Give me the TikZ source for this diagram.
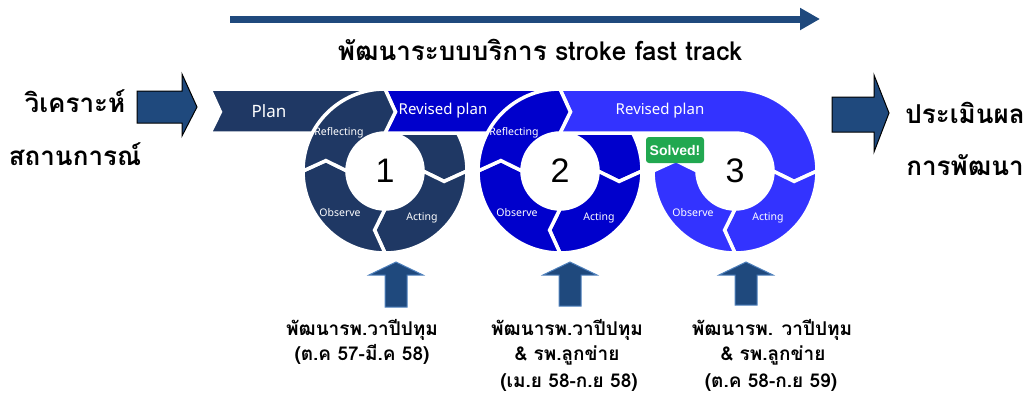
\documentclass[tikz,border=0pt]{standalone}
\usepackage{fontspec}
\setmainfont{Noto Sans}
\newfontfamily\thaifont[Script=Thai]{Loma}
\newfontfamily\digitfont{Liberation Sans}
\usetikzlibrary{arrows.meta}

\definecolor{navyseg}{RGB}{31,56,100}
\definecolor{royalseg}{RGB}{0,0,204}
\definecolor{brightseg}{RGB}{51,51,255}
\definecolor{arrowblue}{RGB}{31,73,125}
\definecolor{arrowedge}{RGB}{79,129,189}
\definecolor{solvedgreen}{RGB}{33,168,80}

\tikzset{
    segline/.style={draw=white,line width=3.5,line join=miter},
    seglabel/.style={text=white,font=\fontsize{10.5}{12}\selectfont},
    bandlabel/.style={text=white,font=\fontsize{15}{18}\selectfont},
    numlabel/.style={font=\digitfont\fontsize{34}{34}\selectfont},
    thaibig/.style={font=\thaifont\bfseries\fontsize{26}{30}\selectfont,anchor=base},
    thaismall/.style={font=\thaifont\bfseries\fontsize{19}{22}\selectfont,anchor=base},
    blockarrow/.style={fill=arrowblue,draw=black,line width=1},
    uparrow/.style={fill=arrowblue,draw=arrowedge,line width=1},
    solvedtag/.style={fill=solvedgreen,rounded corners=3,text=white,inner sep=0,
        minimum width=58,minimum height=26,font=\digitfont\bfseries\fontsize{14}{16}\selectfont}
}

% band that runs in from the left and turns down the right side of a cycle
\newcommand{\bandpart}[2]{
    \draw[segline,fill=#2,shift={(#1)}] (-175,82) -- (0,82)
        arc[start angle=90,end angle=0,radius=82] -- (-10:60) -- (0:38)
        arc[start angle=0,end angle=90,radius=38] -- (-175,38) -- (-164.58,59.09) -- cycle;
}
% one curved chevron of a cycle, from angle #2 clockwise to angle #3
\newcommand{\ringpart}[4]{
    \draw[segline,fill=#4,shift={(#1)}] (#2:82)
        arc[start angle=#2,end angle=#3,radius=82] -- (#3-10:60) -- (#3:38)
        arc[start angle=#3,end angle=#2,radius=38] -- (#2-10:60) -- cycle;
}

\begin{document}
\begin{tikzpicture}[x=1pt,y=1pt]
    \useasboundingbox (0,0) rectangle (1035,-394);

    \coordinate (c1) at (385,-171);
    \coordinate (c2) at (560,-171);
    \coordinate (c3) at (735,-171);

    % time line
    \coordinate (tl) at (230,-19);
    \coordinate (tr) at (820,-19);
    \draw[arrowblue,line width=7,-{Triangle[length=20pt,width=21pt]}] (tl) -- (tr);
    \node[thaibig] (title) at (540,-60) {พัฒนาระบบบริการ stroke fast track};

    % cycles
    \bandpart{c1}{navyseg}
    \ringpart{c1}{0}{-90}{navyseg}
    \ringpart{c1}{-90}{-180}{navyseg}
    \bandpart{c2}{royalseg}
    \ringpart{c1}{180}{90}{navyseg}
    \ringpart{c2}{0}{-90}{royalseg}
    \ringpart{c2}{-90}{-180}{royalseg}
    \bandpart{c3}{brightseg}
    \ringpart{c2}{180}{90}{royalseg}
    \ringpart{c3}{0}{-90}{brightseg}
    \ringpart{c3}{-90}{-180}{brightseg}

    \node[bandlabel,font=\fontsize{17}{20}\selectfont] (plan) at (269,-111) {Plan};
    \node[bandlabel] (rev1) at (443,-111) {Revised plan};
    \node[bandlabel] (rev2) at (660,-111) {Revised plan};
    \node[seglabel] (refl1) at (339,-133) {Reflecting};
    \node[seglabel] (refl2) at (514,-133) {Reflecting};
    \node[seglabel] (obs1) at (340,-213) {Observe};
    \node[seglabel] (obs2) at (517,-213) {Observe};
    \node[seglabel] (obs3) at (693,-213) {Observe};
    \node[seglabel] (act1) at (422,-218) {Acting};
    \node[seglabel] (act2) at (599,-218) {Acting};
    \node[seglabel] (act3) at (768,-218) {Acting};
    \node[numlabel] (num1) at (c1) {1};
    \node[numlabel] (num2) at (c2) {2};
    \node[numlabel] (num3) at (c3) {3};
    \node[solvedtag] (solved) at (675,-150) {Solved!};

    % in and out
    \draw[blockarrow] (137,-91) -- (182,-91) -- (182,-74) -- (197,-107) -- (182,-136)
        -- (182,-123) -- (137,-123) -- cycle;
    \draw[blockarrow] (832,-97) -- (874,-97) -- (874,-75) -- (889,-113) -- (874,-152)
        -- (874,-132) -- (832,-132) -- cycle;
    \node[thaibig] (sit1) at (75,-112) {วิเคราะห์};
    \node[thaibig] (sit2) at (75,-165) {สถานการณ์};
    \node[thaibig] (eval1) at (965,-123) {ประเมินผล};
    \node[thaibig] (eval2) at (965,-175) {การพัฒนา};

    % phases
    \foreach \ax/\ay in {396/-307,570/-306,746/-305}
        \draw[uparrow] (\ax-11,\ay) -- (\ax-11,-275) -- (\ax-27,-275) -- (\ax,-262)
            -- (\ax+27,-275) -- (\ax+11,-275) -- (\ax+11,\ay) -- cycle;

    \node[thaismall] (ph1a) at (362,-335) {พัฒนารพ.วาปีปทุม};
    \node[thaismall] (ph1b) at (362,-360) {(ต.ค 57-มี.ค 58)};
    \node[thaismall] (ph2a) at (567,-335) {พัฒนารพ.วาปีปทุม};
    \node[thaismall] (ph2b) at (567,-360) {\& รพ.ลูกข่าย};
    \node[thaismall] (ph2c) at (569,-387) {(เม.ย 58-ก.ย 58)};
    \node[thaismall] (ph3a) at (772,-335) {พัฒนารพ. วาปีปทุม};
    \node[thaismall] (ph3b) at (773,-360) {\& รพ.ลูกข่าย};
    \node[thaismall] (ph3c) at (771,-387) {(ต.ค 58-ก.ย 59)};
\end{tikzpicture}
\end{document}
